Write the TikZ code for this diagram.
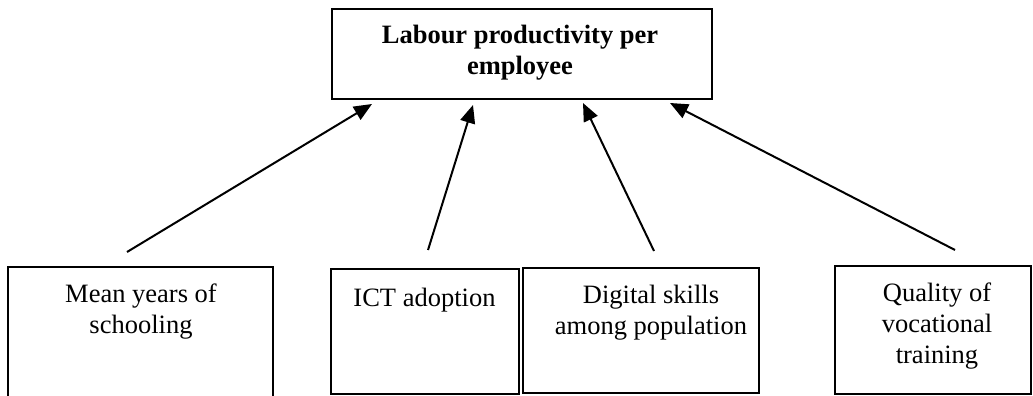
\documentclass[tikz,border=0pt]{standalone}
\usepackage{fontspec}
\setmainfont{Liberation Serif}
\usetikzlibrary{arrows.meta}

% multi-line centred label whose baseline is that of its first line
\newcommand{\stackedtext}[2][300pt]{\parbox[t]{#1}{\centering #2}}

\begin{document}
\begin{tikzpicture}[x=1pt,y=1pt,
  box/.style={draw=black, line width=2pt, inner sep=0pt, fill=white},
  lbl/.style={inner sep=0pt, anchor=base, font=\fontsize{26.5}{31}\selectfont},
  link/.style={line width=2pt, -{Triangle[length=18pt,width=15pt]}}]

  % canvas
  \clip (0,0) rectangle (1033,396);
  \fill[white] (0,0) rectangle (1033,396);

  % target box
  \node[box, minimum width=380pt, minimum height=90pt] (top) at (522,342) {};
  \node[lbl] (toptext) at (520,352) {\stackedtext{\bfseries Labour productivity per\\employee}};

  % driver boxes
  \node[box, minimum width=265pt, minimum height=133pt] (school) at (140.5,62.5) {};
  \node[lbl] (schooltext) at (141,93.5) {\stackedtext[250pt]{Mean years of\\schooling}};

  \node[box, minimum width=188pt, minimum height=125pt] (ict) at (425,64.5) {};
  \node[lbl] (icttext) at (424.5,89.5) {\stackedtext[180pt]{ICT adoption}};

  \node[box, minimum width=236pt, minimum height=125pt] (digital) at (641,65.5) {};
  \node[lbl] (digitaltext) at (651,92) {\stackedtext[230pt]{Digital skills\\among population}};

  \node[box, minimum width=196pt, minimum height=128pt] (voc) at (933,66) {};
  \node[lbl] (voctext) at (937,94) {\stackedtext[190pt]{Quality of\\vocational\\training}};

  % arrow end points
  \coordinate (s1) at (127,144);
  \coordinate (e1) at (372,292);
  \coordinate (s2) at (428,146);
  \coordinate (e2) at (473,291);
  \coordinate (s3) at (654,145);
  \coordinate (e3) at (583,293);
  \coordinate (s4) at (955,146);
  \coordinate (e4) at (670,293);

  \draw[link] (s1) -- (e1);
  \draw[link] (s2) -- (e2);
  \draw[link] (s3) -- (e3);
  \draw[link] (s4) -- (e4);
\end{tikzpicture}
\end{document}
